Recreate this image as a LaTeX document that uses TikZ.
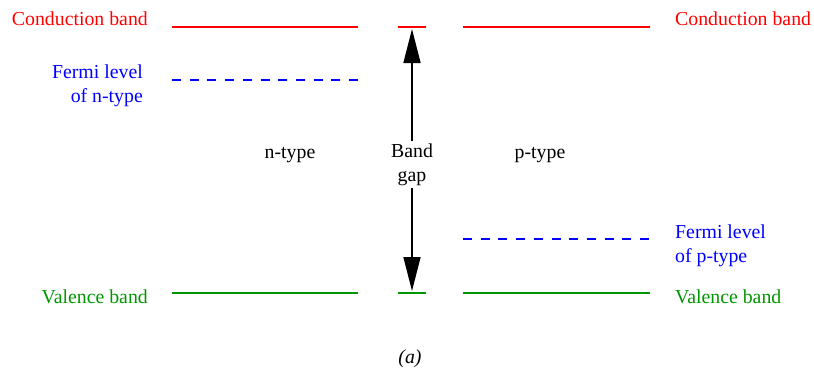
\documentclass[tikz,border=0pt]{standalone}
\usepackage{fontspec}
\setmainfont{Liberation Serif}
\usetikzlibrary{arrows.meta,positioning}
\definecolor{condred}{RGB}{255,0,0}
\definecolor{fermiblue}{RGB}{0,0,255}
\definecolor{valgreen}{RGB}{0,150,0}

\begin{document}
\begin{tikzpicture}[
  x=1pt, y=-1pt,
  font=\fontsize{19.8}{23.5}\selectfont,
  lab/.style={inner sep=0pt, align=left},
  labL/.style={lab, anchor=base east, align=right},
  labR/.style={lab, anchor=base west},
  cband/.style={draw=condred, line width=1.5pt},
  vband/.style={draw=valgreen, line width=1.5pt},
  fermi/.style={draw=fermiblue, line width=1.5pt, dash pattern=on 9pt off 8.7pt},
  gaparr/.style={-{Triangle[length=34pt,width=17pt]}, line width=1.5pt}
]
\useasboundingbox (0,0) rectangle (814,376);
\def\xa{172}\def\xb{358}\def\xc{398}\def\xd{426}\def\xe{463}\def\xf{650}
\def\yc{27}\def\yv{293}

% band edges
\coordinate (cl1) at (\xa,\yc); \coordinate (cl2) at (\xb,\yc);
\coordinate (cm1) at (\xc,\yc); \coordinate (cm2) at (\xd,\yc);
\coordinate (cr1) at (\xe,\yc); \coordinate (cr2) at (\xf,\yc);
\coordinate (vl1) at (\xa,\yv); \coordinate (vl2) at (\xb,\yv);
\coordinate (vm1) at (\xc,\yv); \coordinate (vm2) at (\xd,\yv);
\coordinate (vr1) at (\xe,\yv); \coordinate (vr2) at (\xf,\yv);
\coordinate (fn1) at (\xa,80);  \coordinate (fn2) at (\xb,80);
\coordinate (fp1) at (\xe,239); \coordinate (fp2) at (\xf,239);
\draw[cband] (cl1)--(cl2); \draw[cband] (cm1)--(cm2); \draw[cband] (cr1)--(cr2);
\draw[vband] (vl1)--(vl2); \draw[vband] (vm1)--(vm2); \draw[vband] (vr1)--(vr2);
\draw[fermi] (fn1)--(fn2);
\draw[fermi] (fp1)--(fp2);

% labels (multi-line nodes sit on their last baseline)
\node[labL, text=condred]   (condL) at (148,25)  {Conduction band};
\node[labR, text=condred]   (condR) at (675,25)  {Conduction band};
\node[labL, text=fermiblue] (fermN) at (143,102) {Fermi level\\of n-type};
\node[labR, text=fermiblue] (fermP) at (675,262) {Fermi level\\of p-type};
\node[labL, text=valgreen]  (valL)  at (148,303) {Valence band};
\node[labR, text=valgreen]  (valR)  at (675,303) {Valence band};
\node[lab, anchor=base] (ntype) at (290,158) {n-type};
\node[lab, anchor=base] (ptype) at (540,158) {p-type};
\node[anchor=base, align=center, inner sep=3pt] (gap) at (412,181) {Band\\gap};
\node[anchor=base, inner sep=0pt] (cap) at (410,363) {\textit{(a)}};

% gap arrows
\coordinate (gtop) at (412,29);
\coordinate (gbot) at (412,291);
\draw[gaparr] (gap.north)--(gtop);
\draw[gaparr] (gap.south)--(gbot);
\end{tikzpicture}
\end{document}
